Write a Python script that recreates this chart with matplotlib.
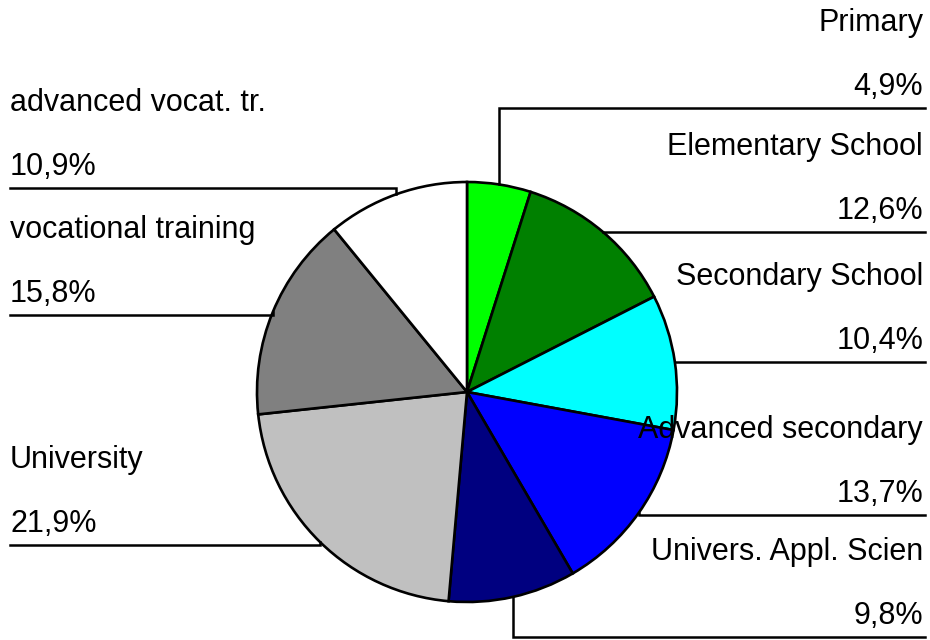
import matplotlib
matplotlib.use("Agg")
import matplotlib.pyplot as plt
import numpy as np

# shares of education levels, clockwise from 12 o'clock
labels = ["Primary", "Elementary School", "Secondary School",
          "Advanced secondary", "Univers. Appl. Scien", "University",
          "vocational training", "advanced vocat. tr."]
shares = [4.9, 12.6, 10.4, 13.7, 9.8, 21.9, 15.8, 10.9]
colors = ["#00ff00", "#008000", "#00ffff", "#0000ff", "#000080",
          "#c0c0c0", "#808080", "#ffffff"]

# label layout: side and height of the underline (pixels from the top)
sides = ["R", "R", "R", "R", "R", "L", "L", "L"]
line_y = [108, 232, 362, 515, 637, 545, 315, 188]

W, H = 930, 640
cx, cy, r = 467, H - 392, 210

plt.rcParams['font.family'] = ['Liberation Sans', 'DejaVu Sans']

fig = plt.figure(figsize=(W / 100, H / 100), dpi=100)
ax = fig.add_axes([0, 0, 1, 1])

wedges, _ = ax.pie(shares, colors=colors, startangle=90, counterclock=False,
                   center=(cx, cy), radius=r,
                   wedgeprops=dict(edgecolor='black', linewidth=1.9))
ax.set_xlim(0, W)
ax.set_ylim(0, H)
ax.set_aspect('equal')
ax.axis('off')

for w, lab, val, side, ly in zip(wedges, labels, shares, sides, line_y):
    mid = np.deg2rad((w.theta1 + w.theta2) / 2)
    px = cx + r * np.cos(mid)
    py = cy + r * np.sin(mid)
    yl = H - ly
    if side == "R":
        ax.plot([px, px, 925], [py, yl, yl], color='black', lw=1.8,
                solid_joinstyle='miter', zorder=1)
        tx, ha = 923, 'right'
    else:
        ax.plot([10, px, px], [yl, yl, py], color='black', lw=1.8,
                solid_joinstyle='miter', zorder=1)
        tx, ha = 10, 'left'
    ax.text(tx, yl + 13, f"{val:.1f}%".replace('.', ','), ha=ha,
            va='baseline', fontsize=22, zorder=5)
    ax.text(tx, yl + 77, lab, ha=ha, va='baseline', fontsize=22, zorder=5)

fig.savefig("out.png", dpi=100)
